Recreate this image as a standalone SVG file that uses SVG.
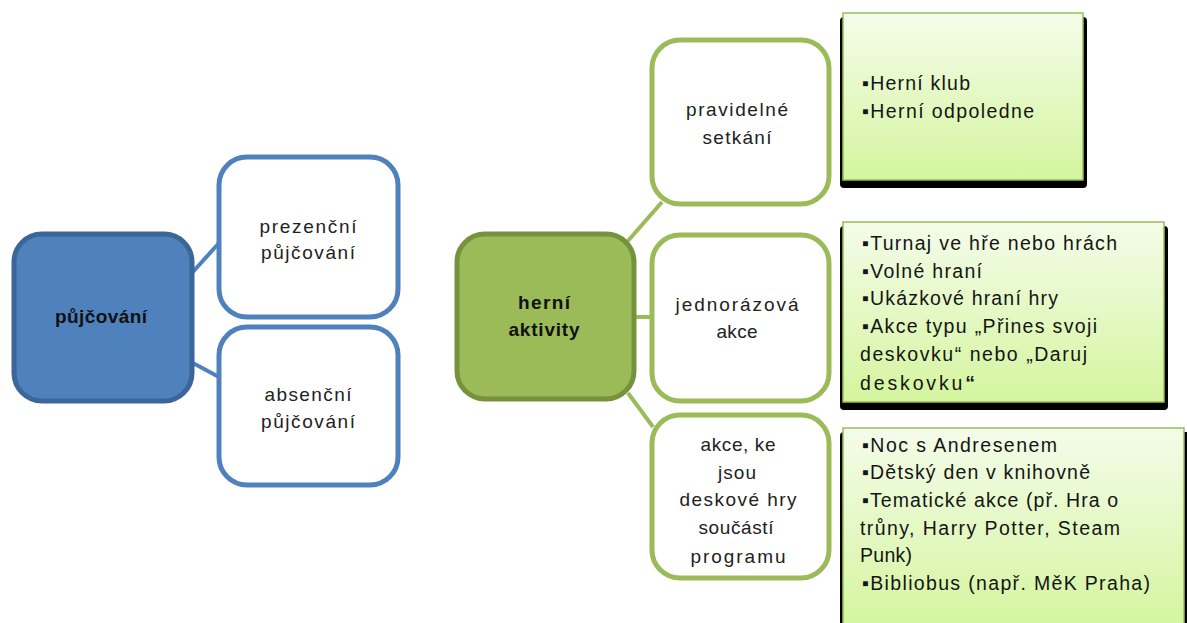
<svg xmlns="http://www.w3.org/2000/svg" width="1187" height="623" viewBox="0 0 1187 623">
<style>
text{font-family:"Liberation Sans","DejaVu Sans",sans-serif;font-size:19px;fill:#222}
.c{text-anchor:middle}
.b{font-weight:bold;fill:#111}
.l{fill:#151515;font-size:19.5px}
.blue{fill:#fff;stroke:#4F81BD;stroke-width:5}
.green{fill:#fff;stroke:#9BBB59;stroke-width:5}
.box{fill:url(#g);stroke:#9BBB59;stroke-width:1.5}
.sh{fill:#000}
.cb{stroke:#4F81BD;stroke-width:4;fill:none}
.cg{stroke:#9BBB59;stroke-width:4;fill:none}
</style>
<defs>
<linearGradient id="g" x1="0" y1="0" x2="0" y2="1">
<stop offset="0" stop-color="#F4FCEA"/>
<stop offset="1" stop-color="#D4F59E"/>
</linearGradient>
</defs>
<rect width="1187" height="623" fill="#fff"/>
<g id="connectors">
<line class="cb" x1="191" y1="274" x2="219" y2="243"/>
<line class="cb" x1="191" y1="362" x2="219" y2="377"/>
<line class="cg" x1="627" y1="242" x2="662" y2="202"/>
<line class="cg" x1="634" y1="317" x2="651" y2="317"/>
<line class="cg" x1="628" y1="393" x2="653" y2="427"/>
</g>
<g id="n-pujcovani">
<rect x="14" y="234" width="178" height="167" rx="28" fill="#4F81BD" stroke="#3B6699" stroke-width="5"/>
<text class="c b" x="101" y="323" textLength="92" lengthAdjust="spacing">půjčování</text>
</g>
<g id="n-prezencni">
<rect class="blue" x="219" y="157" width="179" height="160" rx="28"/>
<text class="c" x="308" y="233" textLength="97" lengthAdjust="spacing">prezenční</text>
<text class="c" x="308" y="259" textLength="94" lengthAdjust="spacing">půjčování</text>
</g>
<g id="n-absencni">
<rect class="blue" x="219" y="327" width="179" height="158" rx="28"/>
<text class="c" x="308" y="401" textLength="87" lengthAdjust="spacing">absenční</text>
<text class="c" x="308" y="428" textLength="94" lengthAdjust="spacing">půjčování</text>
</g>
<g id="n-herni">
<rect x="457" y="234" width="177" height="165" rx="28" fill="#9BBB59" stroke="#76923C" stroke-width="5"/>
<text class="c b" x="544" y="309" textLength="52" lengthAdjust="spacing">herní</text>
<text class="c b" x="544" y="336" textLength="71" lengthAdjust="spacing">aktivity</text>
</g>
<g id="n-pravidelne">
<rect class="green" x="652" y="40" width="177" height="164" rx="28"/>
<text class="c" x="737" y="116" textLength="102" lengthAdjust="spacing">pravidelné</text>
<text class="c" x="737" y="144" textLength="69" lengthAdjust="spacing">setkání</text>
</g>
<g id="n-jednorazova">
<rect class="green" x="652" y="235" width="177" height="166" rx="28"/>
<text class="c" x="737" y="311" textLength="123" lengthAdjust="spacing">jednorázová</text>
<text class="c" x="737" y="338" textLength="41" lengthAdjust="spacing">akce</text>
</g>
<g id="n-akce">
<rect class="green" x="652" y="415" width="177" height="163" rx="28"/>
<text class="c" x="738" y="451" textLength="75" lengthAdjust="spacing">akce, ke</text>
<text class="c" x="737" y="479" textLength="38" lengthAdjust="spacing">jsou</text>
<text class="c" x="738" y="506" textLength="117" lengthAdjust="spacing">deskové hry</text>
<text class="c" x="736" y="534" textLength="75" lengthAdjust="spacing">součástí</text>
<text class="c" x="738" y="563" textLength="95" lengthAdjust="spacing">programu</text>
</g>
<g id="n-list1">
<rect class="sh" x="840" y="17" width="247" height="171" rx="4"/>
<rect class="box" x="843" y="13" width="240" height="167"/>
<text class="l" x="862" y="90" textLength="108" lengthAdjust="spacing">▪Herní klub</text>
<text class="l" x="862" y="118" textLength="172" lengthAdjust="spacing">▪Herní odpoledne</text>
</g>
<g id="n-list2">
<rect class="sh" x="840" y="226" width="328" height="184" rx="4"/>
<rect class="box" x="843" y="222" width="321" height="180"/>
<text class="l" x="862" y="250" textLength="255" lengthAdjust="spacing">▪Turnaj ve hře nebo hrách</text>
<text class="l" x="862" y="278" textLength="120" lengthAdjust="spacing">▪Volné hraní</text>
<text class="l" x="862" y="305" textLength="196" lengthAdjust="spacing">▪Ukázkové hraní hry</text>
<text class="l" x="862" y="333" textLength="235" lengthAdjust="spacing">▪Akce typu „Přines svoji</text>
<text class="l" x="860" y="361" textLength="227" lengthAdjust="spacing">deskovku“ nebo „Daruj</text>
<text class="l" x="860" y="390" textLength="115" lengthAdjust="spacing">deskovku<tspan font-weight="bold">“</tspan></text>
</g>
<g id="n-list3">
<rect class="sh" x="840" y="432" width="350" height="200" rx="4"/>
<rect class="box" x="843" y="428" width="341" height="200"/>
<text class="l" x="862" y="452" textLength="195" lengthAdjust="spacing">▪Noc s Andresenem</text>
<text class="l" x="862" y="479" textLength="228" lengthAdjust="spacing">▪Dětský den v knihovně</text>
<text class="l" x="862" y="507" textLength="256" lengthAdjust="spacing">▪Tematické akce (př. Hra o</text>
<text class="l" x="860" y="535" textLength="260" lengthAdjust="spacing">trůny, Harry Potter, Steam</text>
<text class="l" x="860" y="562" textLength="52" lengthAdjust="spacing">Punk)</text>
<text class="l" x="862" y="590" textLength="288" lengthAdjust="spacing">▪Bibliobus  (např. MěK Praha)</text>
</g>
</svg>
